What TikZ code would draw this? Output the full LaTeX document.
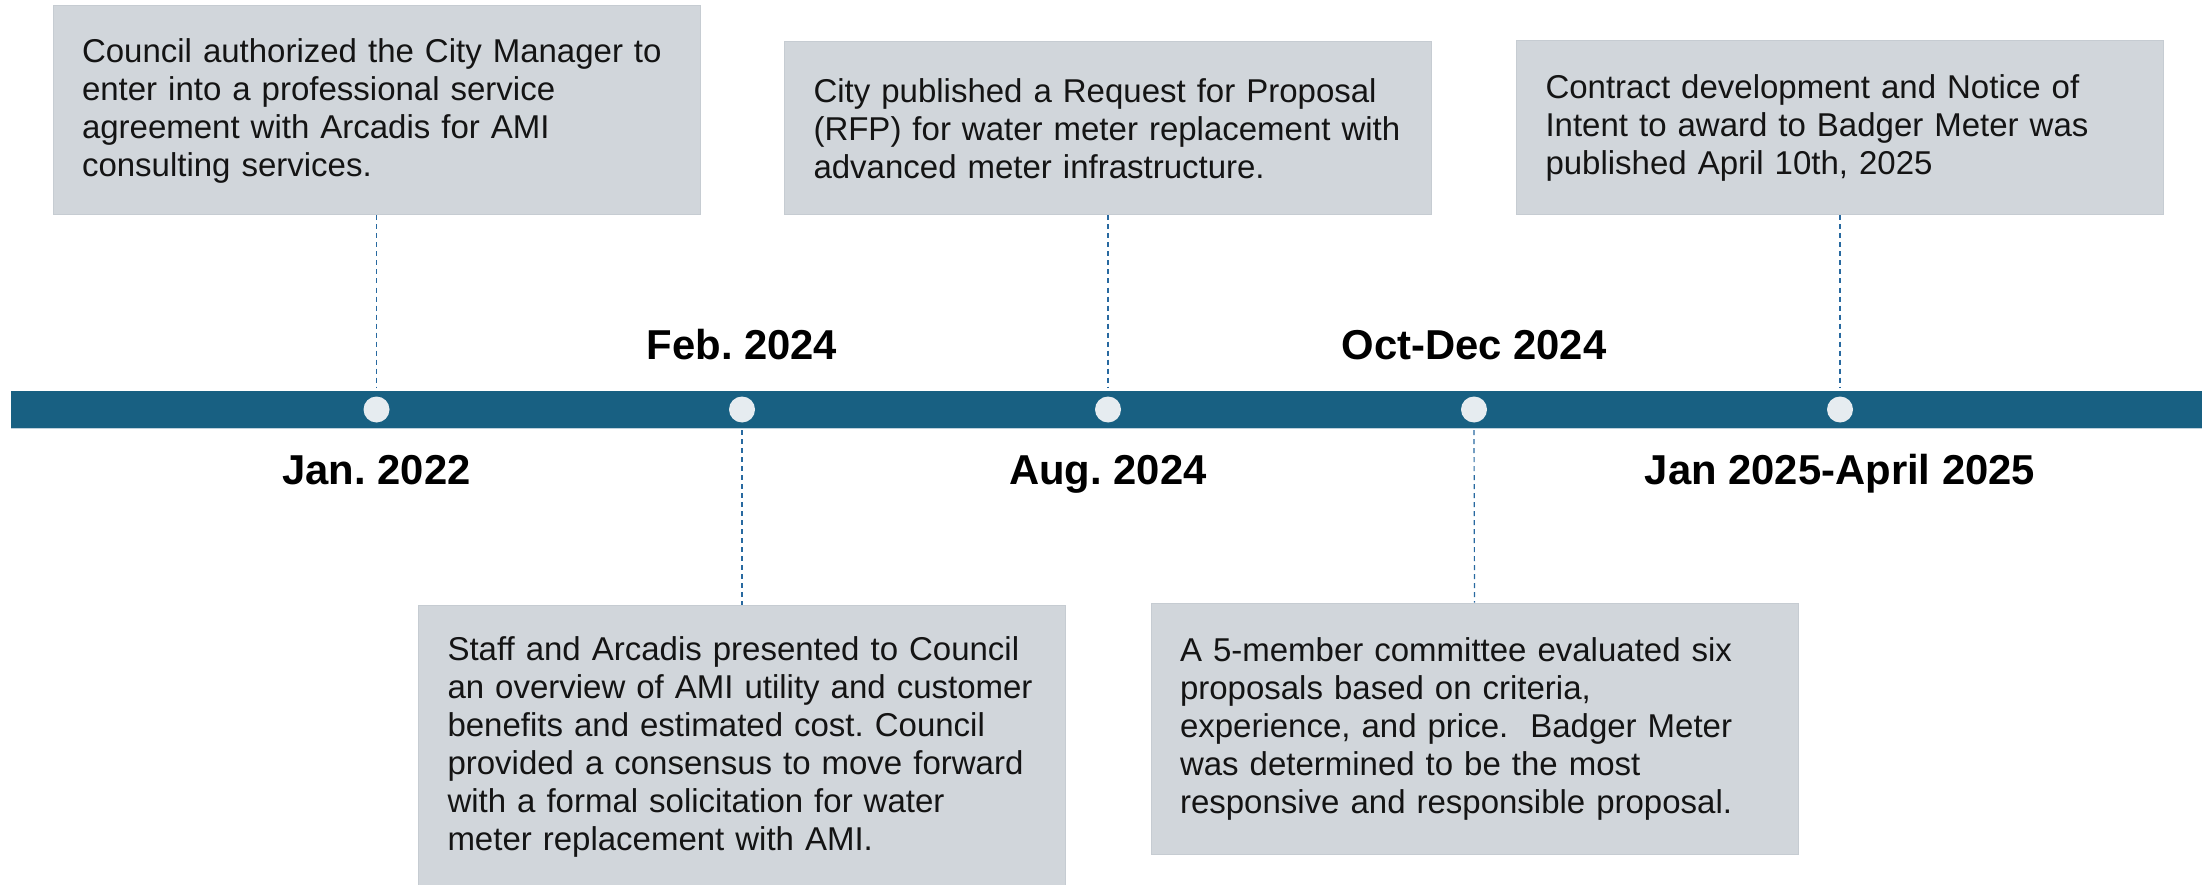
\documentclass[tikz,border=0pt]{standalone}
\usepackage{fontspec}
\setmainfont{Liberation Sans}
\frenchspacing
\definecolor{barblue}{RGB}{24,96,130}
\definecolor{barline}{RGB}{190,208,220}
\definecolor{dotcol}{RGB}{230,236,240}
\definecolor{boxgray}{RGB}{209,214,219}
\definecolor{boxedge}{RGB}{198,204,210}
\definecolor{dashblue}{RGB}{40,105,160}
\definecolor{txt}{RGB}{20,20,20}
\newcommand{\evline}[1]{\mbox{#1}}
\begin{document}
\begin{tikzpicture}[x=1pt,y=-1pt,
  evbox/.style={rectangle, fill=boxgray, draw=boxedge, line width=1pt,
    minimum width=647pt, inner xsep=29pt, inner ysep=0pt, text width=589pt,
    align=left, text=txt, font=\fontsize{33}{38}\selectfont},
  dot/.style={circle, fill=dotcol, minimum size=26pt, inner sep=0pt},
  datelbl/.style={anchor=base, inner sep=0pt, text=black,
    font=\fontsize{41.8}{48}\selectfont\bfseries},
  leader/.style={draw=dashblue, line width=1.2pt, dash pattern=on 5pt off 4pt}]
\useasboundingbox (0,0) rectangle (2202,885);
\fill[white] (0,0) rectangle (2202,885);
% timeline bar
\fill[barblue] (11,391) rectangle (2202,428);
\draw[barline, line width=1.5pt] (11,428.5) -- (2202,428.5);
% dots
\node[dot] (d1) at (376.5,409.5) {};
\node[dot] (d2) at (742,409.5) {};
\node[dot] (d3) at (1108,409.5) {};
\node[dot] (d4) at (1474,409.5) {};
\node[dot] (d5) at (1840,409.5) {};
% leader end points on the bar
\coordinate (t1) at (376.5,388);
\coordinate (b2) at (742,430);
\coordinate (t3) at (1108,388);
\coordinate (b4) at (1474,430);
\coordinate (t5) at (1840,388);
% event boxes
\node[evbox, minimum height=209pt] (box1) at (376.5,110.5)
  {\evline{Council authorized the City Manager to}\\\evline{enter into a professional service}\\\evline{agreement with Arcadis for AMI}\\\evline{consulting services.}};
\node[evbox, minimum height=173pt] (box3) at (1108,128.5)
  {\evline{City published a Request for Proposal}\\\evline{(RFP) for water meter replacement with}\\\evline{advanced meter infrastructure.}};
\node[evbox, minimum height=174pt] (box5) at (1840,128)
  {\evline{Contract development and Notice of}\\\evline{Intent to award to Badger Meter was}\\\evline{published April 10th, 2025}};
\node[evbox, minimum height=283pt] (box2) at (742,746.5)
  {\evline{Staff and Arcadis presented to Council}\\\evline{an overview of AMI utility and customer}\\\evline{benefits and estimated cost. Council}\\\evline{provided a consensus to move forward}\\\evline{with a formal solicitation for water}\\\evline{meter replacement with AMI.}};
\node[evbox, minimum height=251pt] (box4) at (1474.5,728.5)
  {\evline{A 5-member committee evaluated six}\\\evline{proposals based on criteria,}\\\evline{experience, and price.~ Badger Meter}\\\evline{was determined to be the most}\\\evline{responsive and responsible proposal.}};
% leaders
\draw[leader] (box1.south) -- (t1);
\draw[leader] (box3.south) -- (t3);
\draw[leader] (box5.south) -- (t5);
\draw[leader] (b2) -- (box2.north);
\draw[leader] (b4) -- (box4.north);
% date labels
\node[datelbl] (l1) at (376.5,484) {Jan. 2022};
\node[datelbl] (l2) at (742,359) {Feb. 2024};
\node[datelbl] (l3) at (1108,484) {Aug. 2024};
\node[datelbl] (l4) at (1474,359) {Oct-Dec 2024};
\node[datelbl] (l5) at (1840,484) {Jan 2025-April 2025};
\end{tikzpicture}
\end{document}
